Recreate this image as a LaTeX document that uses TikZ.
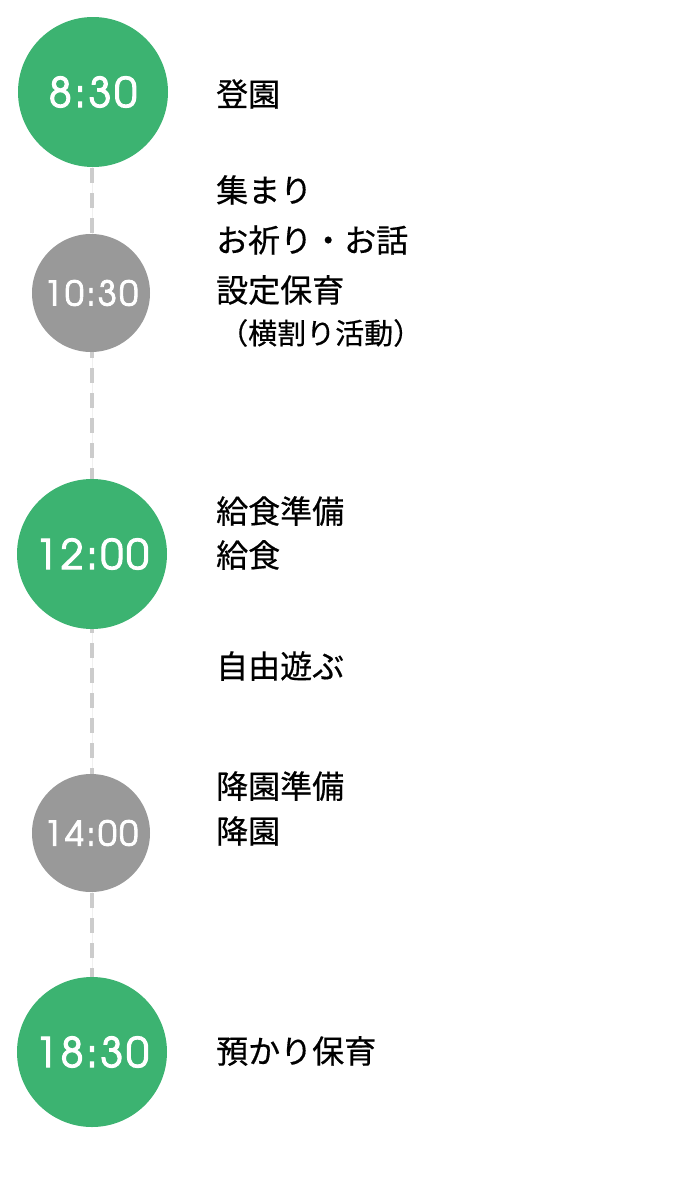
\documentclass[tikz,border=0pt]{standalone}
\usepackage{fontspec}
\setmainfont{Noto Sans CJK JP}[FakeBold=0.5]
\newfontfamily\timefont{texgyreadventor-regular.otf}[LetterSpace=7,FakeBold=2.5]
\definecolor{tgreen}{HTML}{3CB371}
\definecolor{tgray}{HTML}{999999}
\definecolor{dashgray}{HTML}{CCCCCC}
\begin{document}
\begin{tikzpicture}[x=1pt,y=-1pt,
  bigdot/.style={circle,fill=tgreen,minimum size=150pt,inner sep=0pt,text=white,font=\timefont\fontsize{41}{41}\selectfont},
  smalldot/.style={circle,fill=tgray,minimum size=118pt,inner sep=0pt,text=white,font=\timefont\fontsize{34}{34}\selectfont},
  lbl/.style={anchor=west,inner sep=0pt,text=black,font=\fontsize{32}{32}\selectfont},
  sublbl/.style={anchor=west,inner sep=0pt,text=black,font=\fontsize{29}{29}\selectfont},
  thinline/.style={draw=black!6,line width=1pt},
  dashline/.style={draw=dashgray,line width=4pt,dash pattern=on 15pt off 10pt}]
\useasboundingbox (0,0) rectangle (700,1183);
\coordinate (top) at (92,92);
\coordinate (bot) at (92,1052);
\draw[thinline] (top) -- (bot);
\draw[dashline,dash phase=-1pt] (92,167) -- (92,977);
\node[bigdot] (c1) at (93,92) {8:30};
\node[smalldot] (c2) at (91,293) {10:30};
\node[bigdot] (c3) at (92,554) {12:00};
\node[smalldot] (c4) at (91,833) {14:00};
\node[bigdot] (c5) at (92,1052) {18:30};
\node[lbl] (t1) at (216,94) {登園};
\node[lbl] (t2) at (216,190) {集まり};
\node[lbl] (t3) at (216,240) {お祈り・お話};
\node[lbl] (t4) at (216,290) {設定保育};
\node[sublbl] (t5) at (219,333) {（横割り活動）};
\node[lbl] (t6) at (216,511) {給食準備};
\node[lbl] (t7) at (216,555) {給食};
\node[lbl] (t8) at (216,666) {自由遊ぶ};
\node[lbl] (t9) at (216,786) {降園準備};
\node[lbl] (t10) at (216,831) {降園};
\node[lbl] (t11) at (216,1051) {預かり保育};
\end{tikzpicture}
\end{document}
